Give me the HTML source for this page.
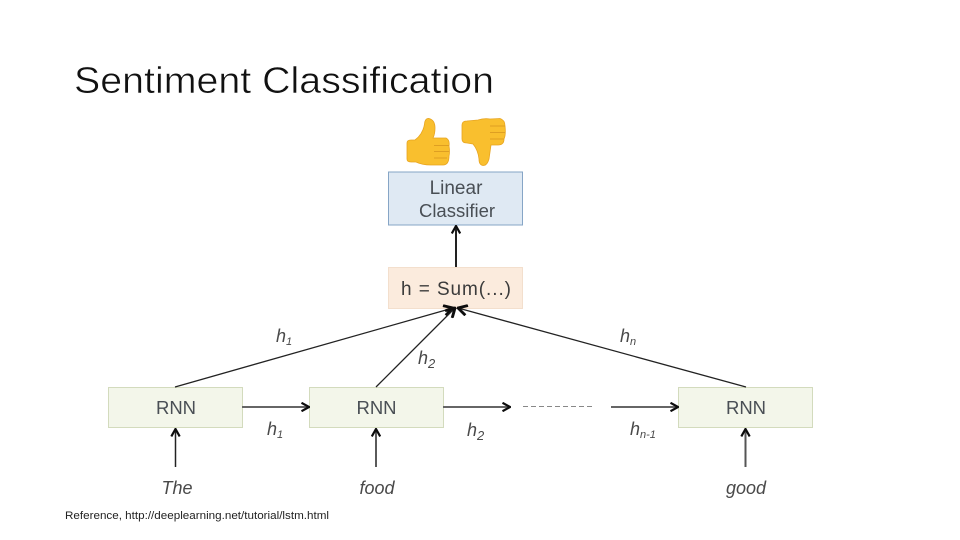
<!DOCTYPE html>
<html><head><meta charset="utf-8"><style>html,body{margin:0;padding:0;background:#fff}svg{display:block}</style></head>
<body>
<svg width="960" height="540" viewBox="0 0 960 540" xmlns="http://www.w3.org/2000/svg" font-family="'Liberation Sans',sans-serif">
<defs>
<marker id="a" viewBox="0 0 10 10" refX="9" refY="5" markerWidth="10" markerHeight="10" markerUnits="userSpaceOnUse" orient="auto"><path d="M1.500 .8L9 5L1.500 9.200" fill="none" stroke="#111" stroke-width="2.200"/></marker>
<marker id="b" viewBox="0 0 10 10" refX="9" refY="5" markerWidth="12" markerHeight="12" markerUnits="userSpaceOnUse" orient="auto"><path d="M1.500 .8L9 5L1.500 9.200" fill="none" stroke="#111" stroke-width="2.400"/></marker>
<filter id="s" filterUnits="userSpaceOnUse" x="0" y="0" width="960" height="540"><feGaussianBlur stdDeviation="0.35"/></filter>
</defs>
<text x="74" y="93" font-size="37" fill="#111" stroke="#fff" stroke-width=".55" textLength="420" lengthAdjust="spacingAndGlyphs">Sentiment Classification</text>
<g filter="url(#s)">
<path d="M407 143Q407 140 411 140L415 140Q423 134 424.500 124Q425 118 429 118.500Q435 120 435 128Q435 134 433 138L446 138Q450 140 449 146Q450 152 449 156Q449 165 443 165L431 165Q422 165 416 162L411 162Q407 162 407 159Z" fill="#F9BF2E" stroke="#E8A520" stroke-width=".8"/>
<path d="M434 145.500H449M434 151.500H449M434 158H447" stroke="#DE9F22" stroke-width="1" fill="none"/>
<path d="M462 125Q462 121 467 121L478 120Q484 118 490 119L500 118.500Q505 120 505 126Q506 135 504 139Q504 145 498 145L491 145Q490 152 489 159Q487 166 483 165.500Q479 165 479 159Q478 150 473 144L467 143Q462 143 462 139Z" fill="#F9BF2E" stroke="#E8A520" stroke-width=".8"/>
<path d="M490 126H505M490 132.500H505M490 139H504" stroke="#DE9F22" stroke-width="1" fill="none"/>
<rect x="388.500" y="172" width="134" height="53" fill="#DFE9F3" stroke="#86A5C6"/>
<rect x="388.500" y="267.500" width="134" height="41" fill="#FBEBDD" stroke="#F3DFCD"/>
<rect x="108.500" y="387.500" width="134" height="40" fill="#F3F6EA" stroke="#D3DBBD"/>
<rect x="309.500" y="387.500" width="134" height="40" fill="#F3F6EA" stroke="#D3DBBD"/>
<rect x="678.500" y="387.500" width="134" height="40" fill="#F3F6EA" stroke="#D3DBBD"/>
<g fill="#4a4f55" font-size="18.500" text-anchor="middle">
<text x="456" y="194" font-size="19">Linear</text>
<text x="457" y="217">Classifier</text>
<text x="456" y="295" fill="#3a3a3a" font-size="19" textLength="110">h = Sum(...)</text>
<text x="176" y="414">RNN</text>
<text x="376.500" y="414">RNN</text>
<text x="746" y="414">RNN</text>
</g>
<g fill="none" stroke="#222" stroke-width="1.300">
<path d="M456 267V226" stroke-width="2" marker-end="url(#a)"/>
<path d="M175.500 467V429" stroke-width="1.500" marker-end="url(#a)"/>
<path d="M376 467V429" stroke-width="1.500" marker-end="url(#a)"/>
<path d="M745.500 467V429" stroke="#555" stroke-width="2" marker-end="url(#a)"/>
<path d="M242 407H309" stroke="#666" stroke-width="2" marker-end="url(#a)"/>
<path d="M443 407H510" stroke="#666" stroke-width="2" marker-end="url(#a)"/>
<path d="M611 407H678" stroke="#666" stroke-width="2" marker-end="url(#a)"/>
<path d="M523 406.500H592" stroke="#888" stroke-width="1" stroke-dasharray="5 3"/>
<path d="M175 387L453 308" marker-end="url(#b)"/>
<path d="M376 387L455 308" marker-end="url(#b)"/>
<path d="M746 387L458 308" marker-end="url(#b)"/>
</g>
<g fill="#4a4a4a" font-size="18" font-style="italic">
<text x="276" y="342">h<tspan font-size="11" dy="3">1</tspan></text>
<text x="418" y="364">h<tspan font-size="13" dy="4">2</tspan></text>
<text x="620" y="342">h<tspan font-size="11" dy="3">n</tspan></text>
<text x="267" y="435">h<tspan font-size="11" dy="3">1</tspan></text>
<text x="467" y="436">h<tspan font-size="13" dy="4">2</tspan></text>
<text x="630" y="435">h<tspan font-size="11" dy="3">n-1</tspan></text>
<text x="177" y="494" text-anchor="middle">The</text>
<text x="377" y="494" text-anchor="middle">food</text>
<text x="746" y="494" text-anchor="middle">good</text>
</g>
</g>
<text x="65" y="519" font-size="11" fill="#222" textLength="264" lengthAdjust="spacingAndGlyphs">Reference, http://deeplearning.net/tutorial/lstm.html</text>
</svg>
</body></html>
